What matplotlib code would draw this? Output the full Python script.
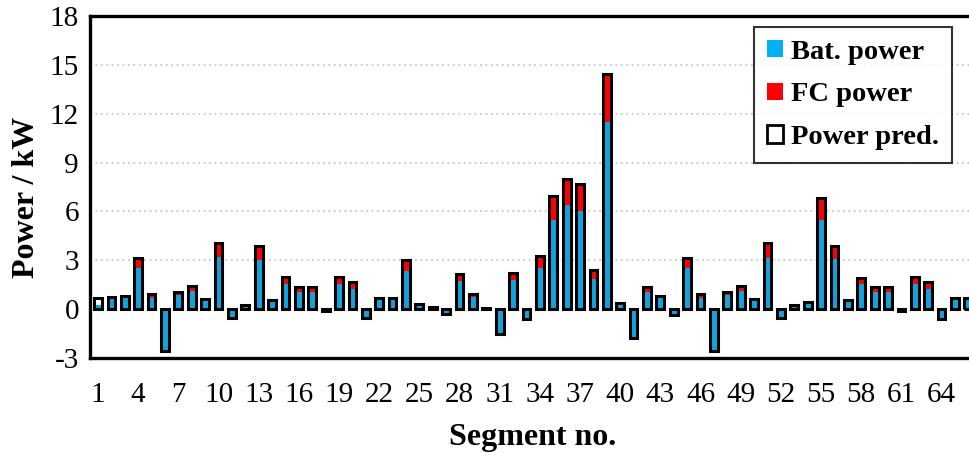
import matplotlib
matplotlib.use("Agg")
import matplotlib.pyplot as plt
from matplotlib.patches import Patch
import numpy as np

segments = list(range(1, 67))

bat_power = [
    0.25, 0.65, 0.7, 2.5, 0.7, -2.55, 0.85, 1.1, 0.6, 3.2,
    -0.55, 0.25, 3.0, 0.55, 1.55, 1.05, 1.05, -0.1, 1.55, 1.25,
    -0.55, 0.65, 0.65, 2.35, 0.3, 0.15, -0.3, 1.75, 0.75, 0.1,
    -1.5, 1.8, -0.6, 2.55, 5.5, 6.4, 6.05, 1.85, 11.5, 0.4,
    -1.75, 1.05, 0.7, -0.35, 2.55, 0.7, -2.55, 0.85, 1.1, 0.6,
    3.15, -0.55, 0.25, 0.45, 5.5, 3.1, 0.55, 1.55, 1.05, 1.05,
    -0.1, 1.55, 1.25, -0.6, 0.65, 0.65,
]
fc_power = [
    0.0, 0.1, 0.1, 0.65, 0.2, 0.0, 0.2, 0.35, 0.0, 0.85,
    0.0, 0.0, 0.85, 0.0, 0.4, 0.3, 0.3, 0.0, 0.45, 0.4,
    0.0, 0.05, 0.05, 0.65, 0.0, 0.0, 0.0, 0.4, 0.15, 0.0,
    0.0, 0.4, 0.0, 0.7, 1.45, 1.6, 1.65, 0.55, 2.95, 0.0,
    0.0, 0.3, 0.1, 0.0, 0.6, 0.25, 0.0, 0.2, 0.35, 0.0,
    0.9, 0.0, 0.0, 0.0, 1.35, 0.8, 0.0, 0.35, 0.3, 0.3,
    0.0, 0.45, 0.4, 0.0, 0.05, 0.05,
]
power_pred = [
    0.7, 0.75, 0.8, 3.15, 0.9, -2.55, 1.05, 1.45, 0.6, 4.05,
    -0.55, 0.25, 3.85, 0.55, 1.95, 1.35, 1.35, -0.1, 2.0, 1.65,
    -0.55, 0.7, 0.7, 3.0, 0.3, 0.15, -0.3, 2.15, 0.9, 0.1,
    -1.5, 2.2, -0.6, 3.25, 6.95, 8.0, 7.7, 2.4, 14.45, 0.4,
    -1.75, 1.35, 0.8, -0.35, 3.15, 0.95, -2.55, 1.05, 1.45, 0.6,
    4.05, -0.55, 0.25, 0.45, 6.85, 3.9, 0.55, 1.9, 1.35, 1.35,
    -0.1, 2.0, 1.65, -0.6, 0.7, 0.7,
]

xtick_values = list(range(1, 67, 3))
ytick_values = [-3, 0, 3, 6, 9, 12, 15, 18]

BLUE = "#12A3DD"
RED = "#FF0000"
SERIF = ["Liberation Serif", "DejaVu Serif"]

plt.rcParams["font.family"] = SERIF
plt.rcParams["axes.unicode_minus"] = False

W, H = 970, 458
fig = plt.figure(figsize=(W / 100, H / 100), dpi=100)

# the plotting area runs past the right edge of the canvas
left_px, right_px, top_px, bottom_px = 90, 1000, 16, 358
ax = fig.add_axes([left_px / W, 1 - bottom_px / H,
                   (right_px - left_px) / W, (bottom_px - top_px) / H])

px_per_seg = 13.39
x0 = 1 - (98 - left_px) / px_per_seg
ax.set_xlim(x0, x0 + (right_px - left_px) / px_per_seg)
ax.set_ylim(-3, 18)

for yv in [3, 6, 9, 12, 15]:
    ax.axhline(yv, color="#c8c8c8", lw=1.3, ls=(0, (1, 2)), zorder=0)

x = np.array(segments)
bat = np.array(bat_power)
fc = np.array(fc_power)
pred = np.array(power_pred)

bw = 0.58
ax.bar(x, bat, width=bw, color=BLUE, edgecolor="none", zorder=2)
ax.bar(x, fc, width=bw, bottom=bat, color=RED, edgecolor="none", zorder=2)
ax.bar(x, pred, width=bw, facecolor="none", edgecolor="black",
       linewidth=2.2, zorder=3)

ax.set_xticks(xtick_values)
ax.set_yticks(ytick_values)
ax.tick_params(axis="x", length=0, pad=17, labelsize=21)
ax.tick_params(axis="y", length=0, pad=8, labelsize=21)

for side in ["left", "bottom", "top"]:
    ax.spines[side].set_linewidth(2.4)
ax.spines["right"].set_visible(False)

fig.text((449 + 617) / 2 / W, 1 - 437 / H, "Segment no.", ha="center",
         va="center", fontsize=23, fontweight="bold")
fig.text(27 / W, 1 - 197 / H, "Power / kW", ha="center", va="center",
         rotation=90, fontsize=23, fontweight="bold")

handles = [
    Patch(facecolor="#00B0F0", edgecolor="none", label="Bat. power"),
    Patch(facecolor=RED, edgecolor="none", label="FC power"),
    Patch(facecolor="white", edgecolor="black", linewidth=2.0,
          label="Power pred."),
]
leg = fig.legend(handles=handles, loc="upper right",
                 bbox_to_anchor=(952 / W, 1 - 27 / H),
                 prop={"family": SERIF, "weight": "bold", "size": 20.5},
                 frameon=True, fancybox=False, edgecolor="black",
                 handlelength=0.55, handleheight=0.55, handletextpad=0.3,
                 labelspacing=0.62, borderpad=0.45, borderaxespad=0)
leg.get_frame().set_linewidth(1.5)

fig.savefig("out.png", dpi=100)
